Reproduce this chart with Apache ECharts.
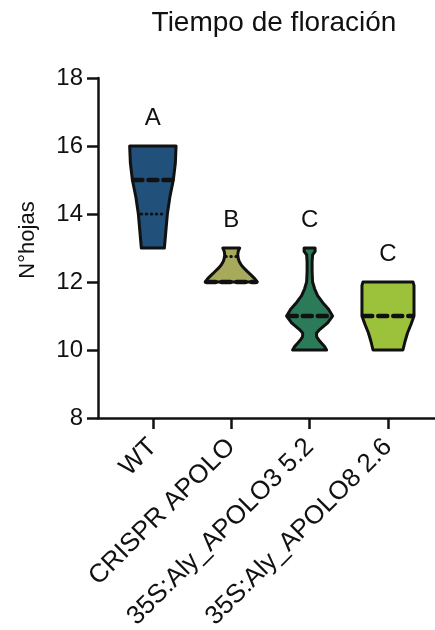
<!DOCTYPE html>
<html>
<head>
<meta charset="utf-8">
<script src="https://cdn.jsdelivr.net/npm/echarts@6/dist/echarts.min.js"></script>
<style>
html,body{margin:0;padding:0;background:#fff;}
#chart{width:435px;height:630px;}
</style>
</head>
<body>
<div id="chart"></div>
<script>
// ---- data ----
const categories = ['WT', 'CRISPR APOLO', '35S:Aly_APOLO3 5.2', '35S:Aly_APOLO8 2.6'];
const letters = ['A', 'B', 'C', 'C'];
const medians = [15, 12, 11, 11];
const q1 = [14, 12, 10, 10];
const q3 = [16, 12.75, 11, 12];

// violin outline: y levels and density half-widths (x-axis units)
const levelsWT = [13, 13.5, 14, 14.5, 15, 15.5, 16];
const densWT = [0.147, 0.166, 0.185, 0.217, 0.261, 0.287, 0.296];
const levelsCR = [12, 12.1, 12.2, 12.3, 12.4, 12.5, 12.6, 12.7, 12.8, 12.9, 13];
const densCR = [0.332, 0.300, 0.255, 0.210, 0.166, 0.128, 0.102, 0.089, 0.083, 0.089, 0.108];
const levelsA3 = [10, 10.1, 10.2, 10.3, 10.4, 10.5, 10.6, 10.8, 11, 11.2, 11.4, 11.6, 11.8, 12, 12.3, 12.6, 12.8, 12.9, 13];
const densA3 = [0.217, 0.191, 0.153, 0.115, 0.089, 0.089, 0.128, 0.230, 0.293, 0.242, 0.166, 0.102, 0.064, 0.038, 0.032, 0.032, 0.038, 0.070, 0.070];
const levelsA8 = [10, 10.25, 10.5, 10.75, 11, 11.5, 11.9, 12];
const densA8 = [0.191, 0.217, 0.249, 0.293, 0.332, 0.332, 0.332, 0.319];

const yTicks = [8, 10, 12, 14, 16, 18];

const levels = [levelsWT, levelsCR, levelsA3, levelsA8];
const dens = [densWT, densCR, densA3, densA8];
const colors = ['#21507b', '#a7a95b', '#2b7b59', '#9cc23c'];
const FONT = '"Liberation Sans", Arial, sans-serif';

function widthAt(i, y) {
  const L = levels[i], D = dens[i];
  if (y <= L[0]) return D[0];
  for (let k = 1; k < L.length; k++) {
    if (y <= L[k]) {
      const t = (y - L[k - 1]) / (L[k] - L[k - 1]);
      return D[k - 1] + t * (D[k] - D[k - 1]);
    }
  }
  return D[D.length - 1];
}

function renderItem(params, api) {
  const i = api.value(0);
  const c = i + 1;
  const L = levels[i], D = dens[i];
  const pts = [];
  for (let k = 0; k < L.length; k++) pts.push(api.coord([c + D[k], L[k]]));
  for (let k = L.length - 1; k >= 0; k--) pts.push(api.coord([c - D[k], L[k]]));
  const children = [{
    type: 'polygon',
    shape: { points: pts },
    style: { fill: colors[i], stroke: '#111', lineWidth: 3, lineJoin: 'round' }
  }];
  // quartiles dotted (only drawn inside the body)
  [q1[i], q3[i]].forEach(function (q) {
    if (q <= L[0] || q >= L[L.length - 1] || q === medians[i]) return;
    const w = widthAt(i, q) * 0.8;
    const p1 = api.coord([c - w, q]), p2 = api.coord([c + w, q]);
    children.push({
      type: 'line',
      shape: { x1: p1[0], y1: p1[1], x2: p2[0], y2: p2[1] },
      style: { stroke: '#111', lineWidth: 3, lineDash: [0.5, 4.5], lineCap: 'round' }
    });
  });
  // median dashed
  const mw = widthAt(i, medians[i]) * 0.95;
  const m1 = api.coord([c - mw, medians[i]]), m2 = api.coord([c + mw, medians[i]]);
  children.push({
    type: 'line',
    shape: { x1: m1[0], y1: m1[1], x2: m2[0], y2: m2[1] },
    style: { stroke: '#111', lineWidth: 4.5, lineDash: [9, 6], lineCap: 'round' }
  });
  // letter
  const top = Math.max.apply(null, L);
  const lp = api.coord([c, top + 0.8]);
  children.push({
    type: 'text',
    x: lp[0], y: lp[1],
    style: { text: letters[i], fill: '#111', font: '24px ' + FONT, align: 'center', verticalAlign: 'middle' }
  });
  return { type: 'group', children: children };
}

const chart = echarts.init(document.getElementById('chart'), null, { renderer: 'canvas' });
chart.setOption({
  animation: false,
  backgroundColor: '#fff',
  graphic: [{
    type: 'text', x: 274, y: 9,
    style: { text: 'Tiempo de floración', fill: '#111', font: '28px ' + FONT, align: 'center', verticalAlign: 'top' }
  }, {
    type: 'text', x: 28, y: 240, rotation: Math.PI / 2,
    style: { text: 'N°hojas', fill: '#111', font: '22px ' + FONT, align: 'center', verticalAlign: 'middle' }
  }],
  grid: { left: 98, right: 0, top: 78, bottom: 212, containLabel: false, outerBoundsMode: 'none' },
  xAxis: {
    type: 'value', min: 0.3, max: 4.6,
    splitLine: { show: false },
    axisLine: { show: true, lineStyle: { color: '#111', width: 2.5 } },
    axisTick: { show: true, customValues: [1, 2, 3, 4], length: 11, lineStyle: { color: '#111', width: 2.5 } },
    axisLabel: {
      customValues: [1, 2, 3, 4], rotate: 45, margin: 25,
      fontSize: 26, fontFamily: FONT, color: '#111',
      formatter: function (v) { return categories[Math.round(v) - 1]; }
    }
  },
  yAxis: {
    type: 'value', min: 8, max: 18, interval: 2,
    splitLine: { show: false },
    axisLine: { show: true, lineStyle: { color: '#111', width: 2.5 } },
    axisTick: { show: true, length: 11, lineStyle: { color: '#111', width: 2.5 } },
    axisLabel: { fontSize: 24, fontFamily: FONT, color: '#111', margin: 15,
      formatter: function (v) { return yTicks.indexOf(v) >= 0 ? String(v) : ''; } }
  },
  series: [{
    type: 'custom',
    renderItem: renderItem,
    data: categories.map(function (_, i) { return [i]; }),
    clip: false
  }]
});
</script>
</body>
</html>
